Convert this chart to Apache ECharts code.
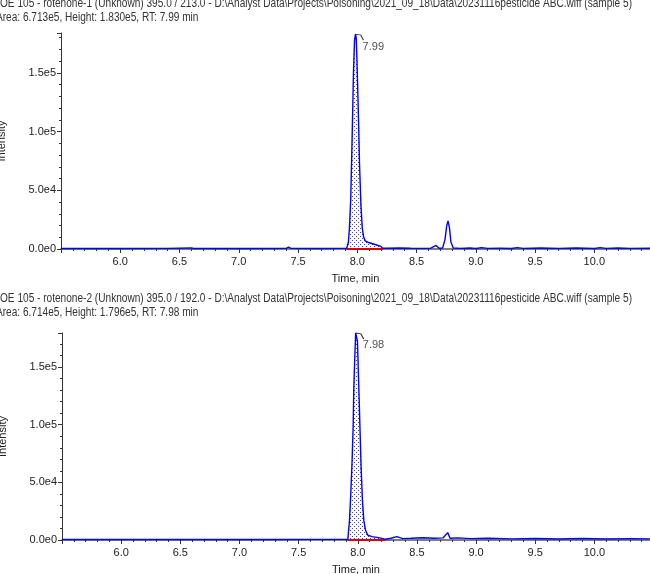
<!DOCTYPE html>
<html>
<head>
<meta charset="utf-8">
<script src="https://cdn.jsdelivr.net/npm/echarts@6/dist/echarts.min.js"></script>
<style>html,body{margin:0;padding:0;background:#fff;}#c{width:650px;height:574px;}</style>
</head>
<body>
<div id="c"></div>
<script>
// ---------- data ----------
var titles1 = ['OE 105 - rotenone-1 (Unknown) 395.0 / 213.0 - D:\\Analyst Data\\Projects\\Poisoning\\2021_09_18\\Data\\20231116pesticide ABC.wiff (sample 5)',
               'Area: 6.713e5, Height: 1.830e5, RT: 7.99 min'];
var titles2 = ['OE 105 - rotenone-2 (Unknown) 395.0 / 192.0 - D:\\Analyst Data\\Projects\\Poisoning\\2021_09_18\\Data\\20231116pesticide ABC.wiff (sample 5)',
               'Area: 6.714e5, Height: 1.796e5, RT: 7.98 min'];
var xTickLabels = ['6.0','6.5','7.0','7.5','8.0','8.5','9.0','9.5','10.0'];
var yTickLabels = ['0.0e0','5.0e4','1.0e5','1.5e5'];
var rtLabels = ['7.99', '7.98'];
var integ1 = [7.911, 8.216];
var integ2 = [7.916, 8.233];

var time1 = [5.5,5.8,6.1,6.4,6.6,6.62,6.9,7.2,7.4,7.42,7.44,7.7,7.85,7.911,7.925,7.934,7.945,7.954,7.962,7.968,7.977,7.985,7.991,7.997,8.002,8.011,8.019,8.031,8.042,8.053,8.067,8.081,8.095,8.109,8.13,8.151,8.17,8.193,8.216,8.25,8.35,8.45,8.55,8.62,8.665,8.69,8.72,8.74,8.755,8.766,8.778,8.79,8.81,8.87,8.95,9.0,9.05,9.1,9.2,9.3,9.35,9.4,9.55,9.7,9.85,10.0,10.05,10.1,10.2,10.3,10.47];
var int1  = [400,500,400,500,900,400,500,400,500,1500,500,400,500,600,6000,18000,43000,83000,121000,151000,178000,183000,180000,162000,143000,108000,72000,37000,18000,10500,7000,6000,5500,5000,4500,3800,3200,2500,700,600,800,600,500,700,3000,600,800,8000,20000,24000,18000,6000,800,500,900,400,1200,500,700,400,1200,500,900,500,800,400,1200,500,800,500,600];

var time2 = [5.5,5.8,6.1,6.4,6.7,7.0,7.3,7.6,7.85,7.916,7.930,7.941,7.952,7.961,7.966,7.975,7.982,7.989,7.997,8.003,8.011,8.020,8.028,8.039,8.051,8.065,8.084,8.12,8.163,8.205,8.233,8.28,8.33,8.38,8.45,8.55,8.65,8.72,8.76,8.78,8.85,8.95,9.1,9.3,9.5,9.7,9.9,10.1,10.3,10.47];
var int2  = [400,500,400,500,400,500,400,500,500,600,17000,40000,69000,98000,130000,159000,179600,178000,173000,153000,124000,92000,64000,35000,17000,8700,4300,2900,2300,1400,600,1500,2900,1200,1500,2000,1500,1800,6400,1500,1800,1200,1500,1000,1300,900,1300,900,1200,1000];

// ---------- helpers ----------
function pairs(t, v) { return t.map(function (x, i) { return [x, v[i]]; }); }
function within(t, v, r) { return pairs(t, v).filter(function (p) { return p[0] >= r[0] && p[0] <= r[1]; }); }
function peakOf(t, v) { var m = 0; v.forEach(function (y, i) { if (y > v[m]) m = i; }); return [t[m], v[m]]; }
function yFmt(v) { var i = [0, 50000, 100000, 150000].indexOf(v); return i >= 0 ? yTickLabels[i] : ''; }
function xFmt(v) { var s = v.toFixed(1); return xTickLabels.indexOf(s) >= 0 ? s : ''; }

var pat = document.createElement('canvas');
pat.width = 4; pat.height = 4;
var pc = pat.getContext('2d');
pc.fillStyle = '#ffffff'; pc.fillRect(0, 0, 4, 4);
pc.fillStyle = '#3a3aff'; pc.fillRect(0, 0, 1, 1); pc.fillRect(2, 2, 1, 1);

var FONT = "'Liberation Sans',Arial,sans-serif";
var txtColor = '#222';

// horizontal squeeze so the long path line fits like the original condensed font
var TFS = 12;
var mc = document.createElement('canvas').getContext('2d');
mc.font = TFS + 'px ' + FONT;
var titleScale = 632 / mc.measureText(titles1[0]).width;

var chart = echarts.init(document.getElementById('c'), null, { renderer: 'canvas' });

function mkX(idx) {
  return {
    type: 'value', gridIndex: idx, min: 5.5, max: 10.47, interval: 0.5,
    name: 'Time, min', nameLocation: 'middle', nameGap: 24,
    nameTextStyle: { fontFamily: FONT, fontSize: 11, color: txtColor },
    axisLine: { onZero: false, lineStyle: { color: '#555', width: 1.5 } },
    axisTick: { show: true, length: 4, lineStyle: { color: '#333' } },
    minorTick: { show: true, splitNumber: 5, length: 2, lineStyle: { color: '#333' } },
    splitLine: { show: false },
    axisLabel: { fontFamily: FONT, fontSize: 11, color: txtColor, margin: 7, formatter: xFmt, showMinLabel: false, showMaxLabel: false }
  };
}
function mkY(idx, max) {
  return {
    type: 'value', gridIndex: idx, min: 0, max: max, interval: 50000,
    name: 'Intensity', nameLocation: 'middle', nameGap: 54, nameRotate: 90,
    nameTextStyle: { fontFamily: FONT, fontSize: 11, color: txtColor },
    axisLine: { show: true, lineStyle: { color: '#333', width: 1 } },
    axisTick: { show: true, length: 4, lineStyle: { color: '#333' } },
    minorTick: { show: true, splitNumber: 5, length: 2, lineStyle: { color: '#333' } },
    splitLine: { show: false },
    axisLabel: { fontFamily: FONT, fontSize: 11, color: txtColor, margin: 5, formatter: yFmt, showMaxLabel: false }
  };
}
function traceSeries(idx, t, v) {
  return { type: 'line', xAxisIndex: idx, yAxisIndex: idx, data: pairs(t, v), showSymbol: false, symbol: 'none',
    lineStyle: { color: '#0000ff', width: 1.4 }, z: 5, animation: false, clip: false };
}
function areaSeries(idx, t, v, r) {
  return { type: 'line', xAxisIndex: idx, yAxisIndex: idx, data: within(t, v, r), symbol: 'none',
    lineStyle: { width: 0 }, areaStyle: { color: { image: pat, repeat: 'repeat' }, opacity: 1 }, z: 3, animation: false, clip: false };
}
function baseSeries(idx, r) {
  return { type: 'line', xAxisIndex: idx, yAxisIndex: idx, data: [[r[0], 0], [r[1], 0]], symbol: 'none',
    lineStyle: { color: '#e00000', width: 2 }, z: 4, animation: false };
}
function labelSeries(idx, t, v, txt) {
  return { type: 'scatter', xAxisIndex: idx, yAxisIndex: idx, data: [peakOf(t, v)], clip: false,
    symbol: 'path://M0 0 L6 1 L9 7', symbolSize: [8, 6], symbolOffset: [4, 3], symbolKeepAspect: false,
    itemStyle: { color: 'none', borderColor: '#000', borderWidth: 1 },
    label: { show: true, formatter: txt, position: [10, 9], align: 'left', verticalAlign: 'top', fontFamily: FONT, fontSize: 11, color: txtColor },
    z: 6, animation: false, silent: true };
}
function titleText(str, x, y) {
  return { type: 'text', x: x, y: y, scaleX: titleScale, silent: true,
    style: { text: str, x: 0, y: 0, fontFamily: FONT, fontSize: TFS, fill: '#333', verticalAlign: 'top', align: 'left' } };
}

chart.setOption({
  animation: false,
  graphic: [
    titleText(titles1[0], 0, -2), titleText(titles1[1], -4, 12),
    titleText(titles2[0], 0, 293), titleText(titles2[1], -4, 307)
  ],
  grid: [
    { left: 61, right: 0, top: 33, height: 216, outerBoundsMode: 'none', containLabel: false },
    { left: 62, right: 0, top: 333, height: 207, outerBoundsMode: 'none', containLabel: false }
  ],
  xAxis: [mkX(0), mkX(1)],
  yAxis: [mkY(0, 184000), mkY(1, 179600)],
  series: [
    areaSeries(0, time1, int1, integ1), baseSeries(0, integ1), traceSeries(0, time1, int1), labelSeries(0, time1, int1, rtLabels[0]),
    areaSeries(1, time2, int2, integ2), baseSeries(1, integ2), traceSeries(1, time2, int2), labelSeries(1, time2, int2, rtLabels[1])
  ]
});
</script>
</body>
</html>
